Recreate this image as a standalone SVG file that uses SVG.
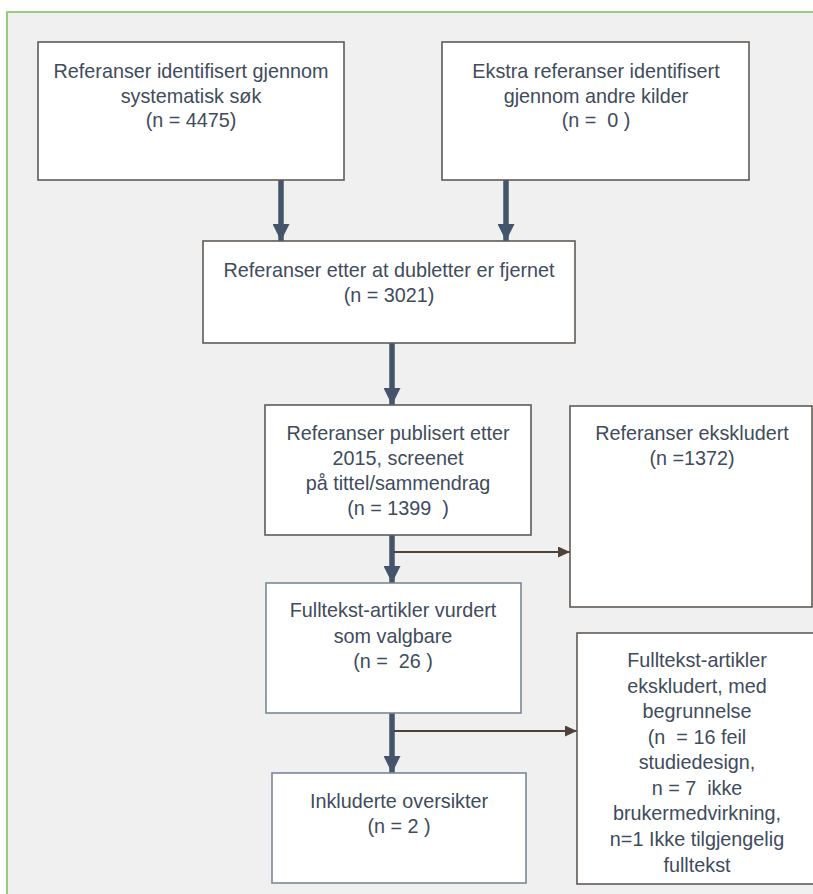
<svg xmlns="http://www.w3.org/2000/svg" width="813" height="894" viewBox="0 0 813 894">
<style>
.bx{fill:#ffffff;stroke:#625a55;stroke-width:1.6}
.bb{fill:#ffffff;stroke:#7c8898;stroke-width:1.6}
.t{font-family:"Liberation Sans",Arial,sans-serif;font-size:19.8px;fill:#404b5c;text-anchor:middle}
.thick{stroke:#44546a;stroke-width:5.5;fill:none}
.thin{stroke:#4e423b;stroke-width:1.8;fill:none}
</style>
<defs>
<marker id="ah" markerUnits="userSpaceOnUse" markerWidth="17" markerHeight="17" viewBox="0 0 17 17" refX="17" refY="8.5" orient="auto">
<path d="M0,0 L17,8.5 L0,17 z" fill="#44546a"/>
</marker>
<marker id="ah2" markerUnits="userSpaceOnUse" markerWidth="12" markerHeight="11" viewBox="0 0 12 11" refX="12" refY="5.5" orient="auto">
<path d="M0,0 L12,5.5 L0,11 z" fill="#4e423b"/>
</marker>
</defs>
<rect x="0" y="0" width="813" height="894" fill="#ffffff"/>
<rect x="7" y="12" width="810" height="890" fill="#f0f0f0"/>
<path d="M7,894 V12 H813" fill="none" stroke="#96cc7c" stroke-width="2"/>

<g id="connectors">
<line class="thick" x1="281" y1="180" x2="281" y2="241" marker-end="url(#ah)"/>
<line class="thick" x1="506" y1="180" x2="506" y2="241" marker-end="url(#ah)"/>
<line class="thick" x1="392" y1="343" x2="392" y2="405" marker-end="url(#ah)"/>
<line class="thick" x1="392" y1="535" x2="392" y2="583" marker-end="url(#ah)"/>
<line class="thick" x1="392" y1="713" x2="392" y2="773" marker-end="url(#ah)"/>
<line class="thin" x1="394" y1="552" x2="570" y2="552" marker-end="url(#ah2)"/>
<line class="thin" x1="394" y1="731" x2="577" y2="731" marker-end="url(#ah2)"/>
</g>

<g id="n1">
<rect class="bx" x="38" y="42" width="306" height="138"/>
<text class="t" x="191" y="78">Referanser identifisert gjennom</text>
<text class="t" x="191" y="102.5">systematisk søk</text>
<text class="t" x="191" y="127">(n = 4475)</text>
</g>
<g id="n2">
<rect class="bx" x="442" y="42" width="307" height="138"/>
<text class="t" x="596" y="78">Ekstra referanser identifisert</text>
<text class="t" x="596" y="102.5">gjennom andre kilder</text>
<text class="t" x="596" y="127" xml:space="preserve">(n =  0 )</text>
</g>
<g id="n3">
<rect class="bx" x="203" y="241" width="372" height="102"/>
<text class="t" x="389" y="277">Referanser etter at dubletter er fjernet</text>
<text class="t" x="389" y="302">(n = 3021)</text>
</g>
<g id="n4">
<rect class="bx" x="265" y="405" width="266" height="130"/>
<text class="t" x="398" y="440">Referanser publisert etter</text>
<text class="t" x="398" y="465">2015, screenet</text>
<text class="t" x="398" y="490">på tittel/sammendrag</text>
<text class="t" x="398" y="515" xml:space="preserve">(n = 1399  )</text>
</g>
<g id="n5">
<rect class="bx" x="570" y="406" width="242" height="201"/>
<text class="t" x="692" y="440">Referanser ekskludert</text>
<text class="t" x="692" y="465">(n =1372)</text>
</g>
<g id="n6">
<rect class="bb" x="266" y="583" width="255" height="130"/>
<text class="t" x="393" y="617">Fulltekst-artikler vurdert</text>
<text class="t" x="393" y="643">som valgbare</text>
<text class="t" x="393" y="668" xml:space="preserve">(n =  26 )</text>
</g>
<g id="n7">
<rect class="bb" x="272" y="773" width="254" height="110"/>
<text class="t" x="399" y="808">Inkluderte oversikter</text>
<text class="t" x="399" y="833">(n = 2 )</text>
</g>
<g id="n8">
<rect class="bx" x="577" y="633" width="240" height="251"/>
<text class="t" x="697" y="667">Fulltekst-artikler</text>
<text class="t" x="697" y="693">ekskludert, med</text>
<text class="t" x="697" y="718">begrunnelse</text>
<text class="t" x="697" y="743.5" xml:space="preserve">(n  = 16 feil</text>
<text class="t" x="697" y="769">studiedesign,</text>
<text class="t" x="697" y="794.5" xml:space="preserve">n = 7  ikke</text>
<text class="t" x="697" y="820">brukermedvirkning,</text>
<text class="t" x="697" y="846">n=1 Ikke tilgjengelig</text>
<text class="t" x="697" y="871.5">fulltekst</text>
</g>
</svg>
